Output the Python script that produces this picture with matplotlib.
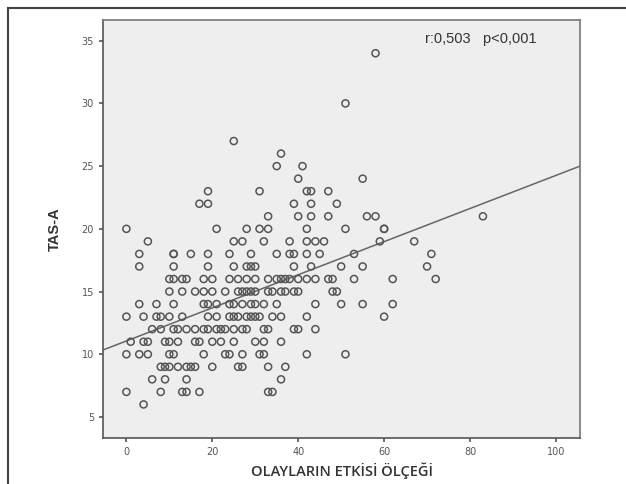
import numpy as np
import matplotlib
matplotlib.use('Agg')
import matplotlib.pyplot as plt
from matplotlib.lines import Line2D

# points grouped by TAS-A value: {tas: [olaylarin etkisi values]}
rows = {
    34: [58],
    30: [51],
    27: [25],
    26: [36],
    25: [35, 41],
    24: [40, 55],
    23: [19, 31, 42, 43, 47],
    22: [17, 19, 39, 43, 49],
    21: [33, 40, 43, 47, 56, 58, 83],
    20: [0, 21, 28, 31, 33, 42, 51, 60, 60],
    19: [5, 25, 27, 32, 38, 42, 44, 46, 59, 67],
    18: [3, 11, 11, 15, 19, 24, 29, 35, 38, 39, 42, 45, 53, 71],
    17: [3, 11, 19, 25, 28, 29, 30, 39, 43, 50, 55, 70],
    16: [10, 11, 13, 14, 18, 20, 24, 26, 28, 30, 33, 35, 36, 37, 38, 40, 42,
         44, 47, 48, 53, 62, 72],
    15: [10, 13, 16, 18, 20, 23, 26, 27, 28, 29, 30, 33, 34, 36, 37, 39, 40,
         48, 49],
    14: [3, 7, 11, 18, 19, 21, 24, 25, 27, 29, 30, 32, 35, 44, 50, 55, 62],
    13: [0, 4, 7, 8, 10, 13, 19, 21, 24, 25, 26, 28, 29, 30, 31, 34, 36, 42, 60],
    12: [6, 8, 11, 12, 14, 16, 18, 19, 21, 22, 23, 25, 27, 28, 32, 33, 39, 40, 44],
    11: [1, 4, 5, 9, 10, 12, 16, 17, 20, 22, 25, 30, 32, 36],
    10: [0, 3, 5, 10, 11, 18, 23, 24, 27, 31, 32, 42, 51],
    9: [8, 9, 10, 12, 14, 15, 16, 20, 26, 27, 33, 37],
    8: [6, 9, 14, 36],
    7: [0, 8, 13, 14, 17, 33, 34],
    6: [4],
}

# fit line
intercept = 11.06
slope = 0.132

x_ticks = [0, 20, 40, 60, 80, 100]
y_ticks = [5, 10, 15, 20, 25, 30, 35]

xs = [x for tas, vals in rows.items() for x in vals]
ys = [tas for tas, vals in rows.items() for x in vals]

fig = plt.figure(figsize=(6.26, 4.84), dpi=100)
ax = fig.add_axes([0.1645, 0.0944, 0.762, 0.8643])
ax.set_facecolor('#eeeeee')

ax.scatter(xs, ys, s=26, facecolors='none', edgecolors='#555555',
           linewidths=1.1, zorder=3)

xlim = (-5.45, 105.6)
lx = np.array(xlim)
ax.plot(lx, intercept + slope * lx, color='#666666', lw=1.1, zorder=2)

ax.set_xlim(xlim)
ax.set_ylim(3.3, 36.65)
ax.set_xticks(x_ticks)
ax.set_yticks(y_ticks)
ax.tick_params(labelsize=7, colors='#555555', length=3, width=1.2)
for sp in ax.spines.values():
    sp.set_color('#777777')
    sp.set_linewidth(1.2)
for sp in ['left', 'bottom']:
    ax.spines[sp].set_color('#555555')

ax.text(0.91, 0.955, 'r:0,503   p<0,001', transform=ax.transAxes,
        ha='right', va='center', fontsize=10.5, color='#333333',
        family='Liberation Sans')

ax.set_xlabel('OLAYLARIN ETKİSİ ÖLÇEĞİ', fontsize=10.5, color='#333333',
              family='Open Sans', fontweight='semibold', labelpad=4)
ax.set_ylabel('TAS-A', fontsize=10.5, color='#333333', family='Liberation Sans',
              fontweight='bold', labelpad=14)

# outer frame lines (top and left)
fig.add_artist(Line2D([8 / 626, 1.0], [1 - 8 / 484, 1 - 8 / 484],
                      transform=fig.transFigure, color='#444444', lw=1.5))
fig.add_artist(Line2D([8 / 626, 8 / 626], [0, 1 - 8 / 484],
                      transform=fig.transFigure, color='#444444', lw=1.5))

fig.savefig('out.png', dpi=100)
